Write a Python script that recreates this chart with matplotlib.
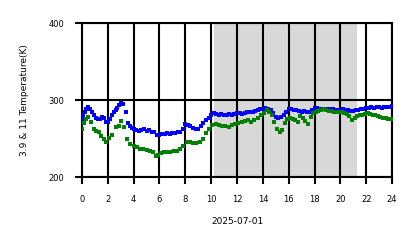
import numpy as np
import matplotlib
matplotlib.use("Agg")
import matplotlib.pyplot as plt

# hours of day and temperatures (K)
hours_39 = [0.0, 0.1, 0.2, 0.35, 0.5, 0.65, 0.8, 0.95, 1.1, 1.25, 1.4, 1.55, 1.7, 1.85, 2.0,
            2.15, 2.3, 2.45, 2.6, 2.75, 2.9, 3.05, 3.2, 3.4, 3.55, 3.7, 3.85, 4.0, 4.2, 4.4,
            4.6, 4.8, 5.0, 5.2, 5.4, 5.6, 5.8, 6.0, 6.2, 6.4, 6.6, 6.8, 7.0, 7.2, 7.4, 7.6,
            7.8, 8.0, 8.2, 8.4, 8.6, 8.8, 9.0, 9.2, 9.4, 9.6, 9.8, 10.0, 10.2, 10.4, 10.6,
            10.8, 11.0, 11.2, 11.4, 11.6, 11.8, 12.0, 12.2, 12.4, 12.6, 12.8, 13.0, 13.2,
            13.4, 13.6, 13.8, 14.0, 14.2, 14.4, 14.6, 14.8, 15.0, 15.2, 15.4, 15.6, 15.8,
            16.0, 16.2, 16.4, 16.6, 16.8, 17.0, 17.2, 17.4, 17.6, 17.8, 18.0, 18.2, 18.4,
            18.6, 18.8, 19.0, 19.2, 19.4, 19.6, 19.8, 20.0, 20.2, 20.4, 20.6, 20.8, 21.0,
            21.2, 21.4, 21.6, 21.8, 22.0, 22.2, 22.4, 22.6, 22.8, 23.0, 23.2, 23.4, 23.6,
            23.8, 24.0]
temp_39 = [276, 280, 285, 289, 291, 288, 284, 280, 277, 275, 276, 278, 277, 272, 271,
           276, 281, 284, 287, 290, 293, 296, 295, 285, 270, 266, 264, 262, 261, 260,
           261, 262, 260, 261, 259, 258, 254, 255, 256, 256, 257, 256, 257, 257, 258, 259,
           262, 269, 268, 266, 264, 262, 263, 266, 270, 274, 277, 281, 283, 282, 281,
           282, 281, 281, 282, 281, 282, 283, 283, 282, 283, 284, 285, 285,
           286, 287, 288, 289, 290, 289, 287, 283, 278, 277, 278, 280, 284,
           289, 288, 287, 287, 286, 285, 286, 285, 285, 287, 290, 290, 289,
           289, 289, 288, 289, 288, 287, 287, 287, 288, 287, 287, 286, 286,
           287, 287, 288, 289, 290, 290, 291, 290, 291, 291, 290, 291, 291,
           291, 292]

hours_11 = [0.0, 0.15, 0.3, 0.5, 0.7, 0.9, 1.1, 1.3, 1.5, 1.7, 1.9, 2.1, 2.3, 2.6, 2.85,
            3.05, 3.25, 3.5, 3.75, 4.0, 4.25, 4.5, 4.75, 5.0, 5.25, 5.5, 5.7, 5.9, 6.1,
            6.35, 6.6, 6.85, 7.1, 7.35, 7.6, 7.85, 8.1, 8.35, 8.6, 8.85, 9.1, 9.35, 9.6,
            9.85, 10.1, 10.35, 10.6, 10.85, 11.1, 11.35, 11.6, 11.85, 12.1, 12.35, 12.6,
            12.85, 13.1, 13.35, 13.6, 13.85, 14.1, 14.3, 14.5, 14.7, 14.9, 15.1, 15.3,
            15.5, 15.7, 15.9, 16.1, 16.3, 16.5, 16.7, 16.9, 17.1, 17.3, 17.5, 17.7, 17.9,
            18.1, 18.3, 18.5, 18.7, 18.9, 19.1, 19.3, 19.5, 19.7, 19.9, 20.1, 20.3, 20.5,
            20.7, 20.9, 21.1, 21.3, 21.5, 21.7, 21.9, 22.1, 22.3, 22.5, 22.7, 22.9, 23.1,
            23.3, 23.5, 23.7, 23.9]
temp_11 = [263, 270, 275, 278, 271, 262, 260, 258, 253, 250, 246, 251, 254, 265, 266,
           273, 265, 250, 243, 241, 239, 237, 236, 235, 234, 233, 228, 229, 231,
           232, 233, 233, 234, 234, 236, 240, 245, 246, 244, 244, 246, 250, 257,
           263, 267, 269, 267, 266, 266, 265, 267, 269, 270, 271, 273,
           274, 272, 274, 277, 280, 283, 287, 284, 281, 272, 263, 258,
           261, 270, 276, 277, 275, 274, 271, 279, 277, 273, 269, 278, 283,
           285, 286, 287, 288, 287, 286, 286, 285, 285, 284, 284, 283, 282,
           279, 274, 277, 279, 280, 281, 282, 283, 282, 281, 281, 279, 278,
           277, 277, 276, 276]

shade_start = 10.2
shade_end = 21.25

x_ticks = list(range(0, 25, 2))
y_ticks = [200, 300, 400]

fig = plt.figure(figsize=(4.18, 2.48), dpi=100)
ax = fig.add_axes([0.196, 0.286, 0.742, 0.621])

ax.axvspan(shade_start, shade_end, color="gray", alpha=0.3, lw=0, zorder=0)

ax.plot(hours_39, temp_39, "s", color="#0000ff", ms=3.0, mew=0, zorder=3)
ax.plot(hours_11, temp_11, "s", color="green", ms=2.2, mew=0, zorder=4)

ax.set_xlim(0, 24)
ax.set_ylim(200, 400)
ax.set_xticks(x_ticks)
ax.set_yticks(y_ticks)
ax.grid(True, color="black", lw=1.5, zorder=1)
ax.set_axisbelow(False)
for s in ax.spines.values():
    s.set_linewidth(1.5)
    s.set_color("black")

ax.tick_params(axis="x", length=5, width=1.5, labelsize=6, pad=8)
ax.tick_params(axis="y", length=5, width=1.5, labelsize=6, pad=7.5)
ax.set_xlabel("2025-07-01", fontsize=6.5, labelpad=9)
ax.set_ylabel("3.9 & 11 Temperature(K)", fontsize=6.5, labelpad=14)

fig.savefig("out.png", dpi=100)
